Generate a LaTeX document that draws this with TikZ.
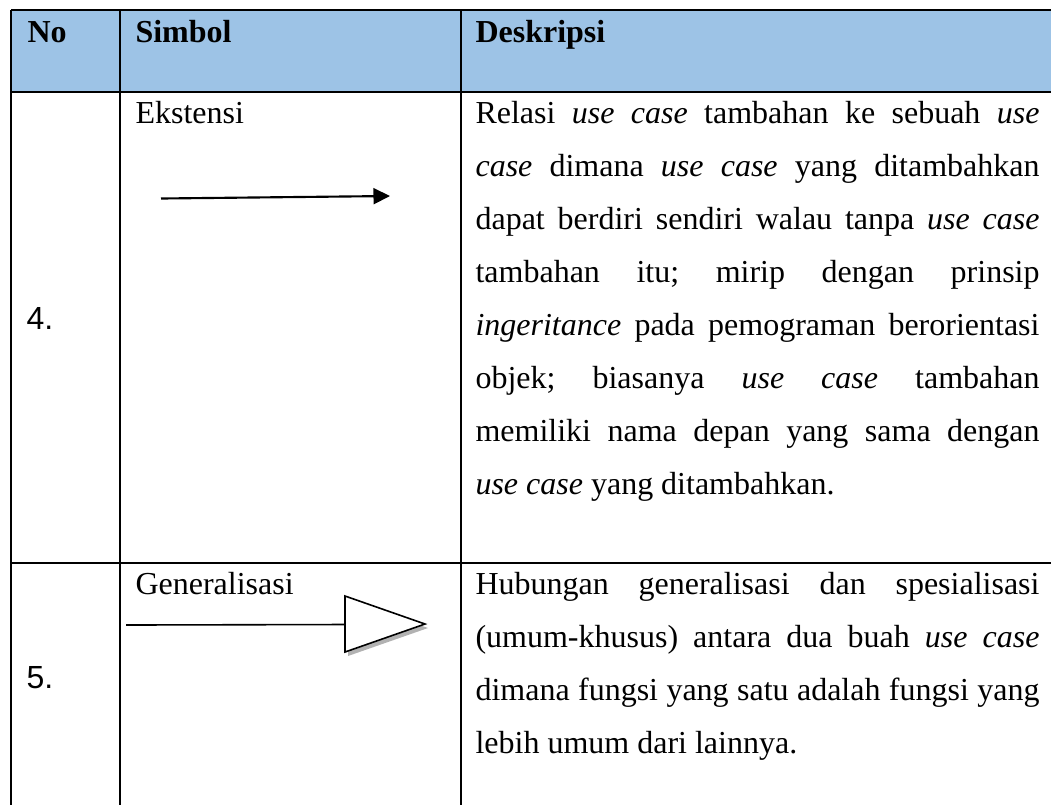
\documentclass[tikz,border=0pt]{standalone}
\usepackage{fontspec}
\setmainfont{Liberation Serif}
\newfontfamily\arialfont{Liberation Sans}
\usetikzlibrary{arrows.meta}
\definecolor{headblue}{RGB}{157,195,230}
\tolerance=10000
\hyphenpenalty=10000
\frenchspacing
\tikzset{
  grid/.style={line width=1pt},
  symline/.style={line width=0.6pt},
  celltxt/.style={anchor=base west, inner sep=0pt, font=\fontsize{12}{19.9}\selectfont},
  headtxt/.style={celltxt, font=\fontsize{12}{14}\selectfont\bfseries},
  numtxt/.style={celltxt, font=\arialfont\fontsize{12}{14}\selectfont},
  desc/.style={celltxt, text width=211.5pt, align=justify},
}
\begin{document}
\begin{tikzpicture}[x=0.375pt, y=-0.375pt]
  \useasboundingbox (0,0) rectangle (1051,805);
  % header band
  \fill[headblue] (11,10) rectangle (1051,92);
  % table rules
  \draw[grid] (11,10) -- (1051,10);
  \draw[grid] (11,92) -- (1051,92);
  \draw[grid] (11,563) -- (1051,563);
  \draw[grid] (11,10) -- (11,805);
  \draw[grid] (120,10) -- (120,805);
  \draw[grid] (461,10) -- (461,805);

  % header
  \node[headtxt] (hno) at (27,42) {No};
  \node[headtxt] (hsym) at (135,42) {Simbol};
  \node[headtxt] (hdesc) at (475,42) {Deskripsi};

  % row 4
  \node[numtxt] (n4) at (26,329) {4.};
  \node[celltxt] (ekst) at (135,123) {Ekstensi};
  \coordinate (ekA) at (161,198.5);
  \coordinate (ekB) at (390,196);
  \draw[symline, line width=0.8pt, -{Triangle[length=6.2pt, width=6pt]}] (ekA) -- (ekB);
  \node[desc] (d4) at (475,123) {Relasi \textit{use case} tambahan ke sebuah \textit{use}\linebreak
    \textit{case} dimana \textit{use case} yang ditambahkan\linebreak
    dapat berdiri sendiri walau tanpa \textit{use case}\linebreak
    tambahan itu; mirip dengan prinsip\linebreak
    \textit{ingeritance} pada pemograman berorientasi\linebreak
    objek; biasanya \textit{use case} tambahan\linebreak
    memiliki nama depan yang sama dengan\linebreak
    \textit{use case} yang ditambahkan.};

  % row 5
  \node[numtxt] (n5) at (26,688) {5.};
  \node[celltxt] (gen) at (135,594) {Generalisasi};
  \coordinate (gA) at (126,625);
  \coordinate (gB) at (345,624.5);
  \coordinate (gtop) at (345,596);
  \coordinate (gbot) at (345,652);
  \coordinate (gtip) at (425,624);
  % shadow
  \fill[gray!60] ([shift={(3,4)}]gtop) -- ([shift={(3,4)}]gtip) -- ([shift={(3,4)}]gbot) -- cycle;
  \draw[symline] (gA) -- (gB);
  \draw[symline, fill=white] (gtop) -- (gtip) -- (gbot) -- cycle;
  \node[desc] (d5) at (475,594) {Hubungan generalisasi dan spesialisasi\linebreak
    (umum-khusus) antara dua buah \textit{use case}\linebreak
    dimana fungsi yang satu adalah fungsi yang\linebreak
    lebih umum dari lainnya.};
\end{tikzpicture}
\end{document}
